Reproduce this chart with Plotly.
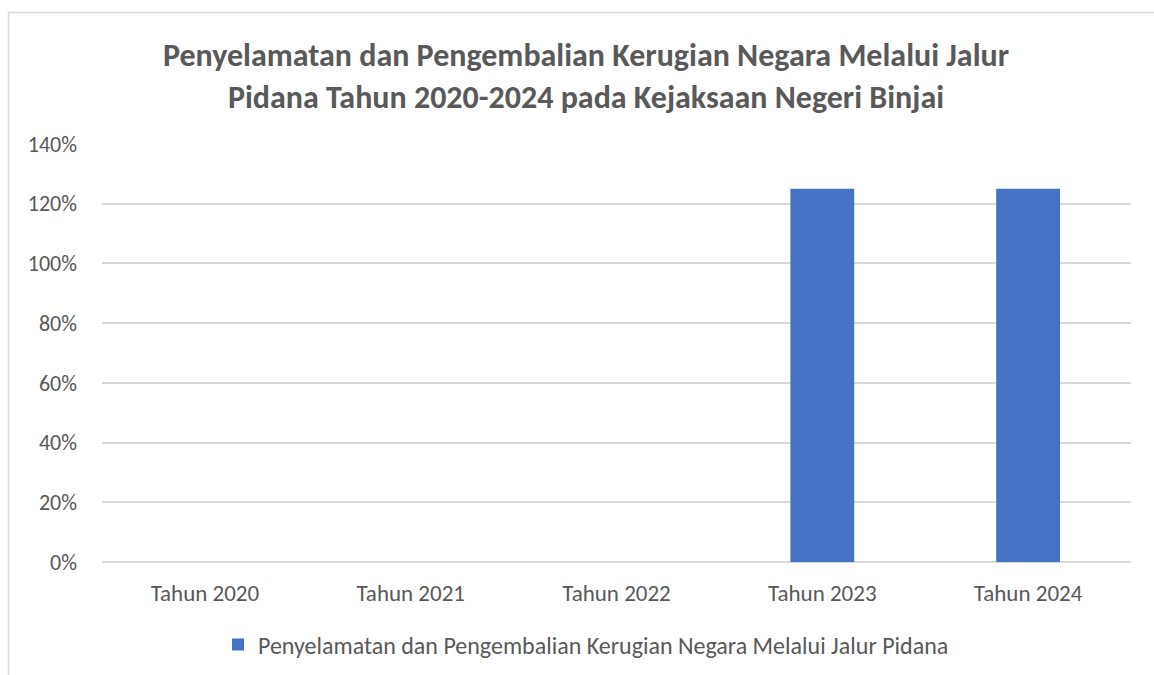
import plotly.graph_objects as go

categories = ["Tahun 2020", "Tahun 2021", "Tahun 2022", "Tahun 2023", "Tahun 2024"]
values = [0, 0, 0, 1.25, 1.25]
series_name = "Penyelamatan dan Pengembalian Kerugian Negara Melalui Jalur Pidana"
title_text = "Penyelamatan dan Pengembalian Kerugian Negara Melalui Jalur<br>Pidana Tahun 2020-2024 pada Kejaksaan Negeri Binjai"

FONT = "Carlito, Lato, 'Open Sans', sans-serif"
GRAY = "#595959"

fig = go.Figure()
fig.add_trace(go.Bar(x=categories, y=values, name=series_name,
                     marker=dict(color="#4472C4", line=dict(width=0)),
                     showlegend=True))

W, H = 1154, 675
L, T = 102, 144
R = W - 1131
B = H - 562
pw, ph = W - L - R, H - T - B

def px(x):
    return (x - L) / pw

def py(y):
    return (H - B - y) / ph

fig.update_layout(
    width=W, height=H,
    margin=dict(l=L, r=R, t=T, b=B, autoexpand=False),
    paper_bgcolor="white", plot_bgcolor="white",
    font=dict(family=FONT, color=GRAY, size=22),
    title=dict(text=title_text, x=586 / W, xanchor="center",
               y=1 - 66 / H, yanchor="middle",
               font=dict(family=FONT, size=32, color=GRAY, weight="bold")),
    bargap=0.69,
    xaxis=dict(showgrid=False, showline=False, ticks="", tickfont=dict(size=23, color=GRAY),
               ticklabelstandoff=15, automargin=False),
    yaxis=dict(range=[0, 1.4], dtick=0.2, tickformat=".0%", showgrid=True,
               gridcolor="#D9D9D9", gridwidth=1.5, zeroline=True, zerolinecolor="#D9D9D9",
               zerolinewidth=1.5, showline=False, ticks="", ticklen=0,
               tickfont=dict(size=22, color=GRAY), ticklabelstandoff=24, automargin=False),
    legend=dict(orientation="h", x=px(586), xanchor="center", y=py(645), yanchor="middle",
                font=dict(size=24, color=GRAY), itemwidth=30),
    shapes=[dict(type="rect", xref="paper", yref="paper",
                 x0=px(8.5), x1=px(1200), y0=py(720), y1=py(12.5),
                 line=dict(color="#D9D9D9", width=1.5), fillcolor="rgba(0,0,0,0)", layer="below")],
)

fig.write_html("out.html", config={"displayModeBar": False},
               post_script="document.body.style.margin='0px';document.body.style.overflow='hidden';")
